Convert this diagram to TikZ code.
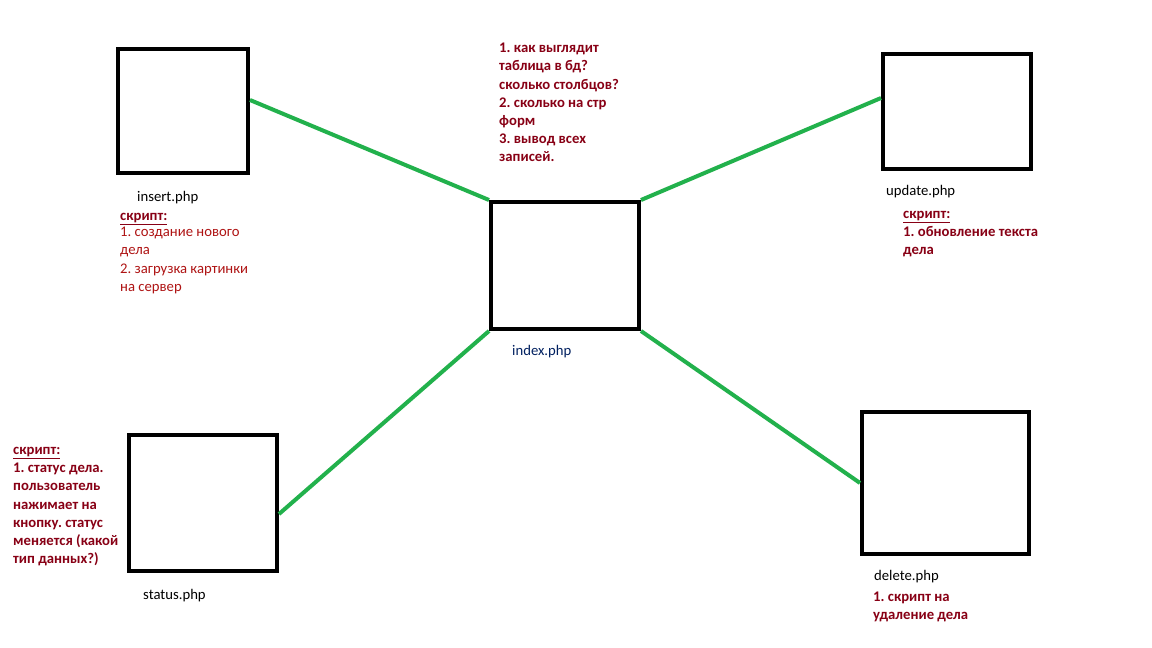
\documentclass[tikz,border=0pt]{standalone}
\usepackage{fontspec}
\setmainfont{Carlito}
\usepackage{tikz}
\frenchspacing
\definecolor{linkgreen}{RGB}{34,177,76}
\definecolor{notered}{RGB}{136,0,21}
\definecolor{listred}{RGB}{175,20,20}
\definecolor{filenavy}{RGB}{0,32,96}
\tikzstyle{page} = [draw=black, line width=4pt, inner sep=0pt]
\tikzstyle{link} = [draw=linkgreen, line width=4pt]
\tikzstyle{fname} = [anchor=base west, inner sep=0pt, font={\fontsize{14.7}{18.2}\selectfont}]
\tikzstyle{note} = [anchor=north west, inner sep=0pt, align=left, font={\fontsize{14.7}{18.2}\selectfont\bfseries}, text=notered]
\tikzstyle{plainnote} = [note, font={\fontsize{14.7}{18.2}\selectfont}, text=listred]

\begin{document}
\begin{tikzpicture}[x=1pt,y=-1pt]
    \useasboundingbox[fill=white] (0,0) rectangle (1152,648);
    \node[page, minimum width=130pt, minimum height=124pt](insert) at (183,111){};
    \node[page, minimum width=148pt, minimum height=115pt](update) at (957,111.5){};
    \node[page, minimum width=148pt, minimum height=127pt](index) at (565,265.5){};
    \node[page, minimum width=148pt, minimum height=136pt](status) at (203,503){};
    \node[page, minimum width=167pt, minimum height=142pt](delete) at (945.5,483){};
    \draw[link]([yshift=11pt]insert.east)--(index.north west);
    \draw[link](index.north east)--([yshift=13.5pt]update.west);
    \draw[link](index.south west)--([yshift=-11pt]status.east);
    \draw[link](index.south east)--(delete.west);
    \node[fname](insertname) at (137,201){insert.php};
    \node[fname](updatename) at (886,195){update.php};
    \node[fname,text=filenavy](indexname) at (512,355){index.php};
    \node[fname](statusname) at (143,599){status.php};
    \node[fname](deletename) at (874,580){delete.php};
    \node[note](insertlabel) at (120,213){\underline{скрипт:}};
    \node[plainnote](insertnote) at (120,227){1. создание нового\\дела\\2. загрузка картинки\\на сервер};
    \node[note](indexnote) at (499,43){1. как выглядит\\таблица в бд?\\сколько столбцов?\\2. сколько на стр\\форм\\3. вывод всех\\записей.};
    \node[note](updatenote) at (903,211){\underline{скрипт:}\\1. обновление текста\\дела};
    \node[note](statusnote) at (13,447){\underline{скрипт:}\\1. статус дела.\\пользователь\\нажимает на\\кнопку. статус\\меняется (какой\\тип данных?)};
    \node[note](deletenote) at (873,592){1. скрипт на\\удаление дела};
\end{tikzpicture}
\end{document}
